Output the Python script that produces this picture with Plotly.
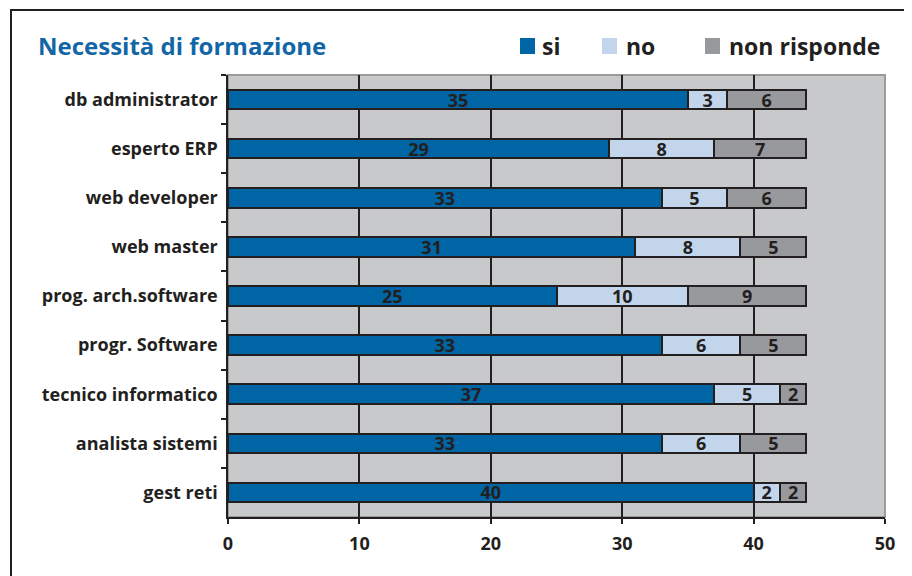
import plotly.graph_objects as go

# data (top to bottom)
categories = ["db administrator", "esperto ERP", "web developer", "web master",
              "prog. arch.software", "progr. Software", "tecnico informatico",
              "analista sistemi", "gest reti"]
si_vals = [35, 29, 33, 31, 25, 33, 37, 33, 40]
no_vals = [3, 8, 5, 8, 10, 6, 5, 6, 2]
nr_vals = [6, 7, 6, 5, 9, 5, 2, 5, 2]
x_ticks = [0, 10, 20, 30, 40, 50]

FONT = "Open Sans"
TXT = "#231f20"
OFF = 8  # page body margin in the browser
W, H = 912 - OFF, 576 - OFF
L, T = 228 - OFF, 75 - OFF
R, B = W - (885 - OFF), H - (517 - OFF)
PW, PH = W - L - R, H - T - B

series = [("si", si_vals, "#0065a4"),
          ("no", no_vals, "#c2d5eb"),
          ("non risponde", nr_vals, "#98999d")]


def px_x(p):
    return (p - OFF - L) / PW


def px_y(p):
    return 1 - (p - OFF - T) / PH


fig = go.Figure()
for name, vals, col in series:
    fig.add_trace(go.Bar(
        y=categories, x=vals, name=name, orientation="h",
        marker=dict(color=col, line=dict(color="#231f20", width=2)),
        text=vals, textposition="inside", insidetextanchor="middle",
        constraintext="none", cliponaxis=False,
        textfont=dict(family=FONT, size=18, color=TXT, weight="bold"),
        textangle=0, showlegend=False,
    ))

# plot frame (grey top/right edges)
fig.add_shape(type="rect", xref="paper", yref="paper", x0=0, x1=1, y0=0, y1=1,
              line=dict(color="#9b9b9b", width=2), layer="below")
# outer border of the whole chart
fig.add_shape(type="rect", xref="paper", yref="paper",
              x0=px_x(11), x1=px_x(920), y0=px_y(590), y1=px_y(10),
              line=dict(color="#231f20", width=2))

# legend drawn by hand: coloured squares and labels
legend_pos = [(520, 540), (602, 624), (705, 727)]
for (name, vals, col), (sx, tx) in zip(series, legend_pos):
    fig.add_shape(type="rect", xref="paper", yref="paper",
                  x0=px_x(sx), x1=px_x(sx + 15), y0=px_y(54), y1=px_y(38),
                  fillcolor=col, line=dict(width=0))
    fig.add_annotation(text="<b>%s</b>" % name, xref="paper", yref="paper",
                       x=px_x(tx), y=px_y(46), xanchor="left", yanchor="middle",
                       showarrow=False, font=dict(family=FONT, size=23, color=TXT))

fig.update_layout(
    width=W, height=H,
    margin=dict(l=L, r=R, t=T, b=B, autoexpand=False),
    paper_bgcolor="white", plot_bgcolor="#c8c9cb",
    barmode="stack", bargap=0.6,
    font=dict(family=FONT, color=TXT),
    uniformtext=dict(minsize=18, mode="show"),
    title=dict(text="<b>Necessità di formazione</b>", x=(38 - OFF) / W, xanchor="left",
               y=1 - (47 - OFF) / H, yanchor="middle",
               font=dict(family=FONT, size=24, color="#1266a6")),
    showlegend=False,
)
fig.update_xaxes(range=[0, 50], tickvals=x_ticks, showgrid=True, gridcolor="#231f20",
                 gridwidth=2, showline=True, linecolor="#231f20", linewidth=2,
                 ticks="outside", ticklen=5, tickwidth=2, tickcolor="#231f20",
                 ticklabelstandoff=4,
                 tickfont=dict(family=FONT, size=18, color=TXT, weight="bold"),
                 zeroline=False, fixedrange=True, automargin=False)
fig.update_yaxes(autorange="reversed", showline=True, linecolor="#231f20", linewidth=2,
                 ticks="outside", ticklen=5, tickwidth=2, tickcolor="#231f20",
                 tickson="boundaries", showgrid=False, ticksuffix=" ",
                 tickfont=dict(family=FONT, size=18, color=TXT, weight="bold"),
                 fixedrange=True, automargin=False)

fig.write_html("out.html")
